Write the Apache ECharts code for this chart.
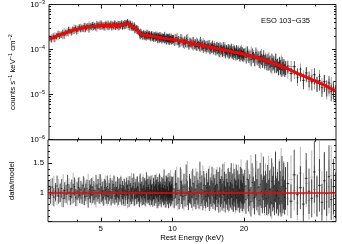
<!DOCTYPE html>
<html><head><meta charset="utf-8">
<script src="https://cdn.jsdelivr.net/npm/echarts@6/dist/echarts.min.js"></script>
<style>html,body{margin:0;padding:0;background:#fff}#c{width:342px;height:244px}</style>
</head><body><div id="c"></div>
<script>
// Energy bin centres (keV)
var energy = [
3.025,3.075,3.125,3.175,3.225,3.275,3.325,3.375,3.425,3.475,3.525,3.575,3.625,3.675,3.725,3.775,3.825,3.875,3.925,3.975,
4.025,4.075,4.125,4.175,4.225,4.275,4.325,4.375,4.425,4.475,4.525,4.575,4.625,4.675,4.725,4.775,4.825,4.875,4.925,4.975,
5.025,5.075,5.125,5.175,5.225,5.275,5.325,5.375,5.425,5.475,5.525,5.575,5.625,5.675,5.725,5.775,5.825,5.875,5.925,5.975,
6.025,6.075,6.125,6.175,6.225,6.275,6.325,6.375,6.425,6.475,6.525,6.575,6.625,6.675,6.725,6.775,6.825,6.875,6.925,6.975,
7.025,7.075,7.125,7.175,7.225,7.275,7.325,7.375,7.425,7.475,7.525,7.575,7.625,7.675,7.725,7.775,7.825,7.875,7.925,7.975,
8.025,8.075,8.125,8.175,8.225,8.275,8.325,8.375,8.425,8.475,8.525,8.575,8.625,8.675,8.725,8.775,8.825,8.875,8.925,8.975,
9.025,9.075,9.125,9.175,9.225,9.275,9.325,9.375,9.425,9.475,9.525,9.575,9.625,9.675,9.725,9.775,9.825,9.875,9.925,9.975,
10.05,10.175,10.3,10.425,10.55,10.675,10.8,10.925,11.05,11.175,11.3,11.425,11.55,11.675,11.8,11.925,
12.05,12.175,12.3,12.425,12.55,12.675,12.8,12.925,13.05,13.175,13.3,13.425,13.55,13.675,13.8,13.925,
14.05,14.175,14.3,14.425,14.55,14.675,14.8,14.925,15.05,15.175,15.3,15.425,15.55,15.675,15.8,15.925,
16.05,16.175,16.3,16.425,16.55,16.675,16.8,16.925,17.05,17.175,17.3,17.425,17.55,17.675,17.8,17.925,
18.05,18.175,18.3,18.425,18.55,18.675,18.8,18.925,19.05,19.175,19.3,19.425,19.55,19.675,19.8,19.925,
20.125,20.375,20.625,20.875,21.125,21.375,21.625,21.875,22.125,22.375,22.625,22.875,23.125,23.375,23.625,23.875,24.125,24.375,24.625,24.875,
25.125,25.375,25.625,25.875,26.125,26.375,26.625,26.875,27.125,27.375,27.625,27.875,28.125,28.375,28.625,28.875,29.125,29.375,29.625,29.875,
30.5,31.5,32.5,33.5,34.5,35.5,36.5,37.5,38.5,39.5,40.5,41.5,42.5,43.5,44.5,45.5,46.5,47.5,48.5];
// Model (units of 1e-5 counts s^-1 keV^-1 cm^-2)
var model = [
17.2,17.8,18.5,19.1,19.8,20.4,21.1,21.7,22.4,23.0,23.6,24.2,24.8,25.4,26.0,26.6,27.1,27.7,28.2,28.7,
29.2,29.6,30.0,30.4,30.7,31.1,31.4,31.8,32.1,32.3,32.6,32.8,33.0,33.2,33.3,33.5,33.6,33.7,33.8,33.9,
34.0,34.0,34.1,34.1,34.2,34.2,34.2,34.2,34.3,34.3,34.3,34.3,34.3,34.3,34.4,34.4,34.4,34.4,34.5,34.5,
34.6,34.8,35.1,35.5,36.1,36.8,37.5,38.0,38.0,37.3,36.3,35.3,34.3,33.5,32.6,31.8,31.1,30.3,29.7,29.0,
28.3,27.4,26.0,24.8,23.5,22.5,22.0,21.7,21.4,21.3,21.1,21.0,20.9,20.8,20.7,20.6,20.5,20.4,20.3,20.2,
20.1,20.0,19.9,19.8,19.7,19.6,19.5,19.4,19.3,19.2,19.1,19.0,18.9,18.8,18.7,18.6,18.5,18.4,18.3,18.2,
18.1,18.0,17.9,17.8,17.8,17.7,17.6,17.5,17.5,17.4,17.3,17.3,17.2,17.1,17.1,17.0,16.9,16.9,16.8,16.7,
16.71,16.49,16.27,16.05,15.85,15.65,15.45,15.26,15.07,14.88,14.71,14.53,14.36,14.19,14.03,13.87,
13.71,13.56,13.41,13.26,13.11,12.97,12.84,12.70,12.57,12.44,12.31,12.18,12.06,11.94,11.82,11.70,
11.59,11.48,11.37,11.26,11.16,11.05,10.95,10.85,10.75,10.66,10.56,10.47,10.38,10.29,10.20,10.12,
10.03,9.95,9.86,9.78,9.70,9.62,9.54,9.47,9.39,9.32,9.24,9.17,9.10,9.03,8.96,8.89,
8.82,8.76,8.69,8.63,8.57,8.50,8.44,8.38,8.32,8.26,8.20,8.15,8.09,8.03,7.98,7.92,
7.83,7.70,7.57,7.44,7.31,7.19,7.07,6.95,6.83,6.72,6.60,6.49,6.38,6.27,6.16,6.05,5.95,5.84,5.74,5.63,
5.53,5.44,5.34,5.24,5.15,5.05,4.96,4.87,4.78,4.69,4.60,4.51,4.43,4.35,4.26,4.18,4.10,4.02,3.95,3.87,
3.75,3.45,3.2,2.95,2.75,2.6,2.45,2.3,2.15,2.05,1.95,1.83,1.72,1.62,1.52,1.43,1.35,1.28,1.21];
// data/model, module A (black)
var ratioA = [
1.05,0.96,1.09,0.92,1.01,1.11,0.94,0.99,1.07,0.90,1.03,0.97,1.13,1.00,0.93,1.06,0.98,1.10,0.91,1.02,
1.08,0.95,1.04,0.97,1.12,0.93,1.00,1.07,0.89,1.05,0.98,1.09,0.96,1.03,0.92,1.11,0.99,1.06,0.94,1.14,
0.97,1.02,0.91,1.08,1.04,0.95,1.10,0.93,1.01,1.07,0.90,1.05,0.98,1.13,0.94,1.03,0.96,1.09,0.92,1.06,
0.99,1.11,0.93,1.04,0.96,1.08,0.91,1.02,1.10,0.97,1.05,0.89,1.12,1.00,0.94,1.07,0.98,1.15,0.92,1.03,
1.06,0.94,1.09,0.97,1.01,0.88,1.13,0.99,1.04,0.93,1.10,0.96,1.07,0.91,1.02,1.16,0.95,1.05,0.98,1.08,
0.92,1.04,1.11,0.96,1.00,0.90,1.07,1.03,0.94,1.12,0.98,1.06,0.89,1.09,1.01,0.95,1.14,0.97,1.03,0.91,
1.08,0.99,1.05,0.93,1.17,0.96,1.02,0.90,1.10,1.04,0.95,1.07,0.88,1.12,0.99,1.03,0.94,1.09,0.97,1.06,
1.06,0.90,1.14,0.97,1.03,0.88,1.18,1.00,0.93,1.09,0.95,1.21,0.99,0.86,1.07,1.02,0.92,1.15,0.96,1.04,
0.89,1.11,1.00,0.94,1.25,0.97,1.05,0.87,1.12,1.01,0.93,1.08,0.96,1.16,0.90,1.03,0.98,1.19,0.94,1.06,
1.02,0.91,1.13,0.95,1.08,0.85,1.17,0.99,1.04,0.92,1.22,0.97,1.10,0.88,1.06,1.01,0.94,1.15,0.90,1.07,
0.96,1.20,0.93,1.05,0.87,1.12,1.00,0.95,1.18,0.91,1.09,0.98,1.03,0.86,1.14,0.97,1.11,0.92,1.05,1.00,
1.10,0.88,1.22,0.95,1.04,0.84,1.17,1.00,0.91,1.28,0.96,1.08,0.86,1.14,1.02,0.93,1.24,0.97,1.06,0.89,
1.13,0.92,1.05,0.83,1.19,0.98,1.09,0.87,1.26,0.94,1.03,0.90,1.16,1.01,0.85,1.21,0.96,1.11,0.92,1.07,
1.15,0.85,1.30,0.96,1.08,0.80,1.24,1.02,0.90,1.35,0.94,1.12,0.83,1.20,0.98,1.27,0.88,1.10,0.95];
// data/model, module B (grey)
var ratioB = [
0.95,1.06,0.91,1.10,0.98,0.93,1.08,1.01,0.89,1.12,0.96,1.04,0.92,1.09,1.02,0.94,1.14,0.97,1.05,0.90,
1.03,1.11,0.95,1.00,0.91,1.08,1.05,0.93,1.13,0.97,1.06,0.92,1.10,0.98,1.02,0.89,1.07,1.00,1.15,0.94,
1.09,0.96,1.04,0.91,1.11,1.01,0.93,1.06,0.99,1.12,0.92,1.08,1.02,0.95,1.10,0.97,1.05,0.90,1.07,1.01,
0.95,1.13,0.97,1.04,0.92,1.09,1.03,0.94,1.06,0.88,1.11,0.99,1.05,0.93,1.16,0.96,1.02,0.91,1.08,1.00,
0.93,1.10,0.98,1.04,0.91,1.12,0.97,1.07,0.89,1.03,1.14,0.95,1.01,1.09,0.92,1.05,0.98,1.11,0.94,1.06,
1.02,0.90,1.08,0.96,1.13,0.99,1.05,0.92,1.10,0.97,1.03,1.15,0.93,1.06,0.88,1.09,1.01,0.95,1.12,0.98,
0.94,1.07,1.00,1.11,0.92,1.04,0.97,1.09,0.90,1.06,1.13,0.95,1.02,0.91,1.08,0.98,1.16,0.93,1.05,1.00,
0.93,1.12,0.98,1.20,0.89,1.05,0.95,1.16,1.01,0.87,1.10,0.96,1.27,0.92,1.04,0.99,1.14,0.88,1.07,0.97,
1.18,0.93,1.03,1.09,0.90,1.13,0.98,1.22,0.94,1.06,0.86,1.11,1.00,0.95,1.17,0.91,1.08,0.97,1.03,1.15,
0.90,1.06,0.97,1.19,0.92,1.10,1.01,0.87,1.14,0.96,1.04,0.89,1.23,0.98,1.07,0.93,1.12,0.85,1.09,1.02,
1.16,0.94,1.05,0.90,1.21,0.99,1.08,0.88,1.13,0.96,1.02,1.18,0.91,1.06,0.97,1.25,0.93,1.10,0.87,1.04,
0.92,1.18,0.99,1.08,0.85,1.26,0.97,1.12,0.90,1.04,1.20,0.94,1.10,0.87,1.31,0.98,1.05,0.91,1.16,1.00,
0.86,1.23,0.95,1.09,0.82,1.15,1.02,0.93,1.28,0.97,1.07,0.88,1.19,0.96,1.34,0.90,1.04,1.13,0.91,1.06,
0.89,1.22,1.03,0.82,1.33,0.97,1.15,0.86,1.26,1.05,0.92,1.38,0.99,1.18,0.84,1.10,1.29,0.93,1.08];
// relative 1-sigma errors per bin
var relErr = [
0.15,0.16,0.14,0.17,0.15,0.16,0.14,0.16,0.15,0.17,0.14,0.16,0.15,0.14,0.16,0.15,0.17,0.14,0.16,0.15,
0.16,0.14,0.15,0.17,0.14,0.16,0.15,0.14,0.17,0.15,0.16,0.14,0.15,0.16,0.14,0.17,0.15,0.16,0.14,0.15,
0.14,0.16,0.15,0.14,0.16,0.15,0.17,0.14,0.15,0.16,0.14,0.15,0.17,0.14,0.16,0.15,0.14,0.16,0.15,0.17,
0.15,0.14,0.16,0.15,0.17,0.14,0.16,0.15,0.14,0.17,0.15,0.16,0.14,0.16,0.15,0.17,0.14,0.15,0.16,0.14,
0.16,0.15,0.17,0.14,0.16,0.15,0.17,0.16,0.14,0.16,0.15,0.17,0.16,0.15,0.18,0.16,0.15,0.17,0.16,0.18,
0.15,0.17,0.16,0.18,0.15,0.16,0.17,0.15,0.18,0.16,0.17,0.15,0.18,0.16,0.17,0.19,0.16,0.17,0.15,0.18,
0.17,0.16,0.18,0.16,0.19,0.17,0.16,0.18,0.17,0.19,0.16,0.18,0.17,0.19,0.18,0.16,0.19,0.17,0.18,0.19,
0.20,0.19,0.21,0.20,0.22,0.19,0.21,0.20,0.22,0.21,0.20,0.22,0.21,0.19,0.23,0.21,0.20,0.22,0.21,0.23,
0.20,0.22,0.21,0.23,0.22,0.21,0.23,0.20,0.22,0.24,0.21,0.23,0.22,0.21,0.24,0.22,0.23,0.21,0.24,0.23,
0.22,0.24,0.23,0.21,0.25,0.23,0.22,0.24,0.23,0.25,0.22,0.24,0.23,0.25,0.24,0.22,0.25,0.23,0.24,0.26,
0.23,0.25,0.24,0.26,0.23,0.25,0.24,0.27,0.25,0.24,0.26,0.25,0.27,0.24,0.26,0.25,0.27,0.26,0.25,0.28,
0.26,0.28,0.27,0.29,0.26,0.30,0.28,0.27,0.31,0.29,0.28,0.30,0.29,0.32,0.28,0.31,0.30,0.33,0.29,0.31,
0.30,0.32,0.31,0.29,0.33,0.31,0.32,0.30,0.34,0.32,0.31,0.33,0.32,0.35,0.31,0.34,0.33,0.36,0.32,0.34,
0.32,0.34,0.33,0.36,0.34,0.37,0.35,0.38,0.36,0.39,0.37,0.40,0.38,0.41,0.39,0.42,0.40,0.43,0.41];
var xMajorTicks = [5,10,20];
var xMinorTicks = [4,6,7,8,9,30,40];
var xLabels = [5,10,20];
var yMinorLog = [0.2,0.3,0.4,0.5,0.6,0.7,0.8,0.9,2,3,4,5,6,7,8,9,20,30,40,50,60,70,80,90];
var rMinor = [0.6,0.7,0.8,0.9,1.1,1.2,1.3,1.4,1.6,1.7,1.8,1.9];
var sourceName = 'ESO 103\u2212G35';

var FONT = 'Liberation Sans';
var FS = 7.8;
var n = energy.length;
function edges(i){
  var lo = i>0 ? (energy[i-1]+energy[i])/2 : energy[0]-(energy[1]-energy[0])/2;
  var hi = i<n-1 ? (energy[i]+energy[i+1])/2 : energy[n-1]+(energy[n-1]-energy[n-2])/2;
  return [lo,hi];
}
function topData(ratio){
  return energy.map(function(e,i){var ed=edges(i);var f=model[i]*ratio[i];var d=f*relErr[i];
    return [e,f,f-d,f+d,ed[0],ed[1]];});
}
function ratData(ratio){
  return energy.map(function(e,i){var ed=edges(i);var r=ratio[i];var d=r*relErr[i];
    return [e,r,r-d,r+d,ed[0],ed[1]];});
}
function render(color,w){
  return function(params,api){
    var e=api.value(0),y=api.value(1),lo=api.value(2),hi=api.value(3),el=api.value(4),eh=api.value(5);
    var a=api.coord([el,y]),b=api.coord([eh,y]),c=api.coord([e,lo]),d=api.coord([e,hi]);
    return {type:'group',children:[
      {type:'line',shape:{x1:a[0],y1:a[1],x2:b[0],y2:b[1]},style:{stroke:color,lineWidth:w}},
      {type:'line',shape:{x1:c[0],y1:c[1],x2:d[0],y2:d[1]},style:{stroke:color,lineWidth:w}}
    ]};
  };
}
var supRich = {s:{fontFamily:FONT,fontSize:5.4,verticalAlign:'top',lineHeight:9,color:'#000'},
               b:{fontFamily:FONT,fontSize:FS,verticalAlign:'bottom',lineHeight:9,color:'#000'}};
var expLab = {'-3':'{b|10}{s|\u22123}','-4':'{b|10}{s|\u22124}','-5':'{b|10}{s|\u22125}','-6':'{b|10}{s|\u22126}'};
var G = [{left:44.7,top:3.3,width:291.3,height:136.4,show:true,borderColor:'#222',borderWidth:1,backgroundColor:'transparent'},
         {left:44.7,top:139.7,width:291.3,height:82,show:true,borderColor:'#222',borderWidth:1,backgroundColor:'transparent'}];
function xa(g,pos,ticks,len,labels,name){
  return {type:'log',logBase:10,gridIndex:g,position:pos,min:3,max:48.7,
    axisLine:{show:false,onZero:false},splitLine:{show:false},minorTick:{show:false},
    axisTick:{show:true,inside:true,length:len,customValues:ticks,lineStyle:{color:'#111',width:1}},
    axisLabel:{show:!!labels,customValues:labels||undefined,margin:3,fontFamily:FONT,fontSize:FS,color:'#000'},
    name:name||'',nameLocation:'middle',nameGap:11,nameTextStyle:{fontFamily:FONT,fontSize:FS,color:'#000'}};
}
function ylog(pos,ticks,len,labels,name){
  var o={type:'log',logBase:10,gridIndex:0,position:pos,min:0.1,max:100,
    axisLine:{show:false,onZero:false},splitLine:{show:false},minorTick:{show:false},
    axisTick:{show:true,inside:true,length:len,lineStyle:{color:'#111',width:1}},
    axisLabel:{show:!!labels,margin:4,fontFamily:FONT,fontSize:FS,color:'#000',rich:supRich,
      formatter:function(v){return expLab[String(Math.round(Math.log10(v))-5)]||'';}},
    name:name||'',nameLocation:'middle',nameGap:32,nameTextStyle:{fontFamily:FONT,fontSize:FS,color:'#000',rich:supRich}};
  if(ticks) o.axisTick.customValues=ticks;
  return o;
}
function ylin(pos,ticks,len,labels,name){
  var o={type:'value',gridIndex:1,position:pos,min:0.5,max:1.9,interval:0.5,
    axisLine:{show:false,onZero:false},splitLine:{show:false},minorTick:{show:false},
    axisTick:{show:true,inside:true,length:len,lineStyle:{color:'#111',width:1}},
    axisLabel:{show:!!labels,margin:4,fontFamily:FONT,fontSize:FS,color:'#000',
      formatter:function(v){return v===1?'1':(Math.abs(v-1.5)<1e-6?'1.5':'');}},
    name:name||'',nameLocation:'middle',nameGap:32,nameTextStyle:{fontFamily:FONT,fontSize:FS,color:'#000'}};
  if(ticks) o.axisTick.customValues=ticks;
  return o;
}
var chart = echarts.init(document.getElementById('c'),null,{renderer:'canvas'});
chart.setOption({
  animation:false,
  title:{text:sourceName,left:261,top:17,padding:0,textStyle:{fontFamily:FONT,fontSize:7.5,fontWeight:'normal',color:'#000'}},
  grid:G,
  xAxis:[xa(0,'bottom',xMajorTicks,4),xa(0,'bottom',xMinorTicks,2),xa(0,'top',xMajorTicks,4),xa(0,'top',xMinorTicks,2),
         xa(1,'bottom',xMajorTicks,4,xLabels,'Rest Energy (keV)'),xa(1,'bottom',xMinorTicks,2),xa(1,'top',xMajorTicks,4),xa(1,'top',xMinorTicks,2)],
  yAxis:[ylog('left',null,4,true,'{b|counts s}{s|\u22121}{b| keV}{s|\u22121}{b| cm}{s|\u22122}'),ylog('left',yMinorLog,2),ylog('right',null,4),ylog('right',yMinorLog,2),
         ylin('left',null,4,true,'data/model'),ylin('left',rMinor,2),ylin('right',null,4),ylin('right',rMinor,2)],
  series:[
    {type:'custom',xAxisIndex:0,yAxisIndex:0,clip:true,renderItem:render('#8f8f8f',0.8),data:topData(ratioB),encode:{x:0,y:1},z:1},
    {type:'custom',xAxisIndex:0,yAxisIndex:0,clip:true,renderItem:render('rgba(0,0,0,0.85)',0.8),data:topData(ratioA),encode:{x:0,y:1},z:2},
    {type:'line',xAxisIndex:0,yAxisIndex:0,showSymbol:false,data:energy.map(function(e,i){return [e,model[i]];}),
      lineStyle:{color:'#ff0000',width:3},z:5},
    {type:'custom',xAxisIndex:4,yAxisIndex:4,clip:true,renderItem:render('#a8a8a8',0.8),data:ratData(ratioB),encode:{x:0,y:1},z:1},
    {type:'custom',xAxisIndex:4,yAxisIndex:4,clip:true,renderItem:render('rgba(0,0,0,0.85)',0.8),data:ratData(ratioA),encode:{x:0,y:1},z:2,
      markLine:{silent:true,symbol:'none',label:{show:false},lineStyle:{color:'#ff0000',width:1.5,type:'solid'},data:[{yAxis:1}]}}
  ]
});
</script></body></html>
